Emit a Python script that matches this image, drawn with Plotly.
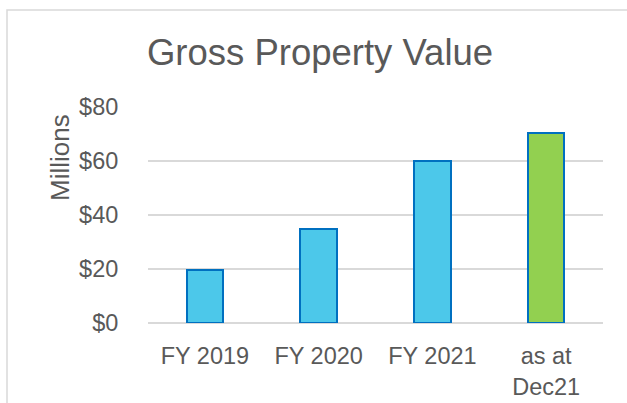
import plotly.graph_objects as go

categories = ["FY 2019", "FY 2020", "FY 2021", "as at<br>Dec21"]
values = [19.6, 34.8, 59.9, 70.5]
bar_colors = ["#4CC8EA", "#4CC8EA", "#4CC8EA", "#92D050"]
tick_vals = [0, 20, 40, 60, 80]
tick_text = ["$0", "$20", "$40", "$60", "$80"]

W, H = 627, 403
L, R, T, B = 148, 24, 107, 80
PW, PH = W - L - R, H - T - B


def px_x(x):
    return (x - L) / PW


def px_y(y):
    return (H - B - y) / PH


fig = go.Figure(go.Bar(
    x=categories, y=values,
    marker=dict(color=bar_colors, line=dict(color="#0070C0", width=2)),
    width=0.32,
))

fig.update_layout(
    width=W, height=H,
    margin=dict(l=L, r=R, t=T, b=B, pad=0, autoexpand=False),
    paper_bgcolor="white", plot_bgcolor="white",
    font=dict(family="Liberation Sans, Arial", color="#595959", size=23.5),
    showlegend=False,
    bargap=0,
    xaxis=dict(showgrid=False, showline=False, zeroline=False, automargin=False,
               ticks="outside", ticklen=12, tickcolor="rgba(0,0,0,0)",
               tickfont=dict(size=23.5, color="#595959")),
    yaxis=dict(range=[0, 80], tickvals=tick_vals, ticktext=tick_text, automargin=False,
               showgrid=True, gridcolor="#D9D9D9", gridwidth=1.5,
               zeroline=True, zerolinecolor="#D9D9D9", zerolinewidth=1.5,
               showline=False, ticks="outside", ticklen=24, tickcolor="rgba(0,0,0,0)",
               tickfont=dict(size=23.5, color="#595959")),
    title=dict(text="Gross Property Value", x=320 / W, xanchor="center",
               y=1 - 52 / H, yanchor="middle",
               font=dict(size=36.5, color="#595959")),
)

fig.add_annotation(text="Millions", xref="paper", yref="paper",
                   x=px_x(60), y=px_y(158),
                   xanchor="center", yanchor="middle", textangle=-90,
                   showarrow=False, font=dict(size=26, color="#595959"))

fig.add_shape(type="rect", xref="paper", yref="paper",
              x0=px_x(7), x1=px_x(W + 40),
              y0=px_y(H + 40), y1=px_y(10),
              line=dict(color="#D9D9D9", width=1.5), layer="below")

fig.write_html("out.html", config={"displayModeBar": False},
               post_script="document.body.style.margin='0';document.body.style.overflow='hidden';")
